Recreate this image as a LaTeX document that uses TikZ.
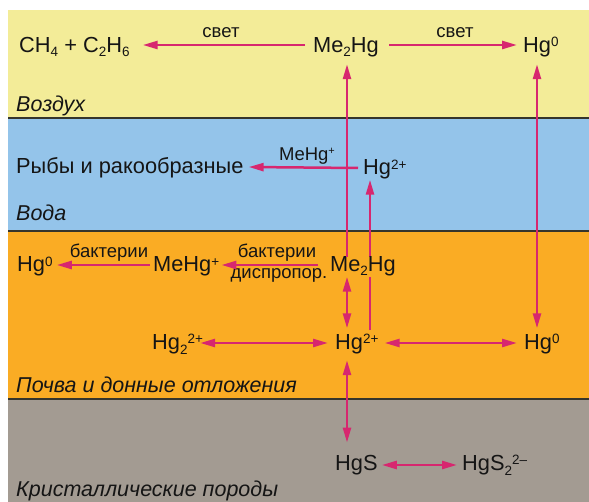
\documentclass[tikz,border=0pt]{standalone}
\usepackage{fontspec}
\setmainfont{Liberation Sans}
\usetikzlibrary{arrows.meta}
\definecolor{yel}{HTML}{F3EC98}
\definecolor{blu}{HTML}{94C4EA}
\definecolor{ora}{HTML}{FAAC24}
\definecolor{gry}{HTML}{A39B92}
\definecolor{pnk}{HTML}{D7276F}
\definecolor{sepc}{HTML}{35352C}
\definecolor{ink}{HTML}{151515}
\newcommand{\sbs}[1]{\raisebox{-4pt}{\fontsize{13.5}{13.5}\selectfont #1}}
\newcommand{\sbl}[1]{\raisebox{-5.5pt}{\fontsize{13.5}{13.5}\selectfont #1}}
\newcommand{\sps}[1]{\raisebox{5.5pt}{\fontsize{13.5}{13.5}\selectfont #1}}
\newcommand{\lsp}[1]{\raisebox{6pt}{\fontsize{11}{11}\selectfont #1}}
\pgfdeclarelayer{bands}
\pgfdeclarelayer{lines}
\pgfsetlayers{bands,lines,main}
\begin{document}
\begin{tikzpicture}[x=1pt,y=-1pt,
  txt/.style={inner sep=0pt, anchor=base west, text=ink, font=\fontsize{21.8}{24}\selectfont},
  lbl/.style={inner sep=0pt, anchor=base, text=ink, font=\fontsize{18.5}{21}\selectfont},
  zone/.style={inner sep=0pt, anchor=base west, text=ink, font=\fontsize{21.5}{24}\selectfont\itshape},
  sepline/.style={draw=sepc, line width=1.5pt},
  arr/.style={draw=pnk, line width=2.5pt, -{Triangle[length=15pt,width=8pt]}},
  darr/.style={draw=pnk, line width=2.5pt, {Triangle[length=15pt,width=8pt]}-{Triangle[length=15pt,width=8pt]}}]
\useasboundingbox (0,0) rectangle (589,502);
\begin{pgfonlayer}{bands}
  \fill[yel] (8,10) rectangle (589,118);
  \fill[blu] (8,118) rectangle (589,231);
  \fill[ora] (8,231) rectangle (589,399);
  \fill[gry] (8,399) rectangle (589,502);
  \draw[sepline] (8,118) -- (589,118);
  \draw[sepline] (8,231) -- (589,231);
  \draw[sepline] (8,399) -- (589,399);
\end{pgfonlayer}
\coordinate (colA) at (347,0);
\coordinate (colB) at (370,0);
\coordinate (colC) at (537,0);
% air
\node[txt] (ch) at (19,52.5) {CH\sbs{4} + C\sbs{2}H\sbs{6}};
\node[txt] (meA) at (313,52.5) {Me\sbs{2}Hg};
\node[txt] (hgA) at (523,52.5) {Hg\sps{0}};
\node[lbl] (sv1) at (221,38) {свет};
\node[lbl] (sv2) at (455,38) {свет};
\node[zone] (vozd) at (16,111.5) {Воздух};
% water
\node[txt] (fish) at (16,174) {Рыбы и ракообразные};
\node[txt] (hgB) at (363,175) {Hg\sps{2+}};
\node[lbl] (l3) at (307,161) {MeHg\lsp{+}};
\node[zone] (voda) at (16,221) {Вода};
% soil
\node[txt] (hgC) at (17,272) {Hg\sps{0}};
\node[txt] (mehg) at (153,272) {MeHg\sps{+}};
\node[txt, fill=ora] (meB) at (330,272) {Me\sbs{2}Hg};
\node[lbl] (b1) at (109,258) {бактерии};
\node[lbl] (b2) at (277,258) {бактерии};
\node[lbl] (dis) at (279,279) {диспропор.};
\node[txt] (hg22) at (152,349.5) {Hg\sbl{2}\sps{2+}};
\node[txt] (hgD) at (335,349.5) {Hg\sps{2+}};
\node[txt] (hgE) at (524,349.5) {Hg\sps{0}};
\node[zone] (pochva) at (16,392) {Почва и донные отложения};
% rock
\node[txt] (hgs) at (335,470) {HgS};
\node[txt] (hgs2) at (462,470) {HgS\sbl{2}\sps{2–}};
\node[zone] (krist) at (16,496) {Кристаллические породы};
% horizontal arrows
\draw[arr] ([xshift=-8pt,yshift=7.5pt]meA.base west) -- ([xshift=13pt,yshift=7.5pt]ch.base east);
\draw[arr] ([xshift=10pt,yshift=7.5pt]meA.base east) -- ([xshift=-6pt,yshift=7.5pt]hgA.base west);
\draw[arr] ([xshift=-5pt,yshift=7pt]hgB.base west) -- ([xshift=5pt,yshift=7pt]fish.base east);
\draw[arr] ([xshift=-3pt,yshift=7pt]mehg.base west) -- ([xshift=4pt,yshift=7pt]hgC.base east);
\draw[arr] ([xshift=-12pt,yshift=7pt]meB.base west) -- ([xshift=2pt,yshift=7pt]mehg.base east);
\draw[darr] ([xshift=-3pt,yshift=6.5pt]hg22.base east) -- ([xshift=-7pt,yshift=6.5pt]hgD.base west);
\draw[darr] ([xshift=6pt,yshift=6.5pt]hgD.base east) -- ([xshift=-7pt,yshift=6.5pt]hgE.base west);
\draw[darr] ([xshift=4pt,yshift=5pt]hgs.base east) -- ([xshift=-5pt,yshift=5pt]hgs2.base west);
% vertical arrows
\draw[arr, shorten >=7pt] (meB.north -| colA) -- (meA.south -| colA);
\draw[darr, shorten >=6pt] (meB.south -| colA) -- (hgD.north -| colA);
\draw[darr, shorten <=6pt, shorten >=12pt] (hgD.south -| colA) -- (hgs.north -| colA);
\draw[darr, shorten <=7pt, shorten >=6pt] (hgA.south -| colC) -- (hgE.north -| colC);
\begin{pgfonlayer}{lines}
  \draw[arr, shorten <=4pt] (hgD.north -| colB) -- (hgB.south -| colB);
\end{pgfonlayer}
\end{tikzpicture}
\end{document}
